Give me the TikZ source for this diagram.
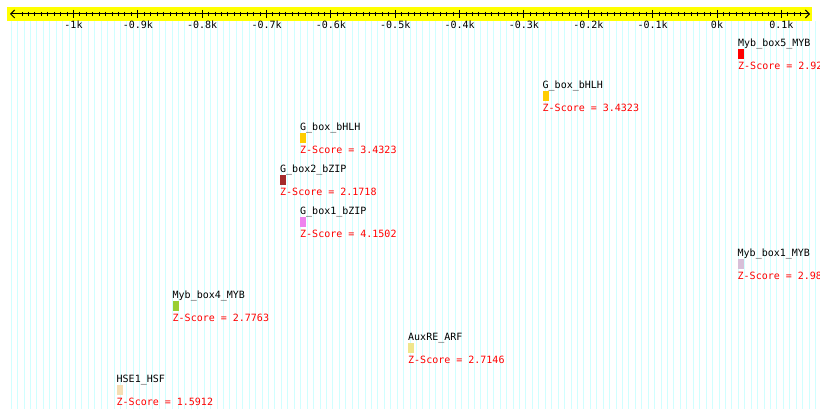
\documentclass[tikz,border=0pt]{standalone}
\usepackage{fontspec}
\setmonofont{DejaVu Sans Mono}
\usetikzlibrary{arrows.meta}
\definecolor{axisyellow}{RGB}{255,255,0}
\definecolor{gridcyan}{RGB}{208,255,255}
\definecolor{zred}{RGB}{255,0,0}
\definecolor{mybred}{RGB}{255,0,0}
\definecolor{bhlhgold}{RGB}{255,205,0}
\definecolor{bzipbrown}{RGB}{165,42,42}
\definecolor{bzipviolet}{RGB}{238,130,238}
\definecolor{mybthistle}{RGB}{216,191,216}
\definecolor{mybgreen}{RGB}{154,205,50}
\definecolor{arfkhaki}{RGB}{240,230,140}
\definecolor{hsfwheat}{RGB}{245,222,179}

\begin{document}
\begin{tikzpicture}[x=1pt, y=-1pt,
    lbl/.style={anchor=base west, inner sep=0pt, font=\ttfamily\fontsize{10}{12}\selectfont},
    zscore/.style={lbl, text=zred},
    ticklbl/.style={anchor=base, inner sep=0pt, font=\ttfamily\fontsize{10}{12}\selectfont},
    bar/.style={anchor=north west, inner sep=0pt, minimum width=6pt, minimum height=10pt}]
    \useasboundingbox (0,0) rectangle (820,419);
    % background grid, one line every 10 bp
    \foreach \b in {-1100,-1090,...,150}
        \draw[gridcyan, line width=1pt] ({719+0.6435*\b},21) -- ({719+0.6435*\b},409);
    % axis
    \fill[axisyellow] (7,7) rectangle (812,21);
    \coordinate (axl) at (10,14);
    \coordinate (axr) at (810,14);
    \draw[line width=1pt, {Straight Barb[length=4pt,width=8pt]}-{Straight Barb[length=4pt,width=8pt]}] (axl) -- (axr);
    \foreach \b in {-1080,-1070,...,130}
        \draw[line width=1pt] ({717+0.6435*\b},12) -- ({717+0.6435*\b},16);
    \foreach \b/\t in {-1000/-1k,-900/-0.9k,-800/-0.8k,-700/-0.7k,-600/-0.6k,-500/-0.5k,
                       -400/-0.4k,-300/-0.3k,-200/-0.2k,-100/-0.1k,0/0k,100/0.1k}{
        \draw[line width=1pt] ({717+0.6435*\b},10) -- ({717+0.6435*\b},18);
        \node[ticklbl] (tick\b) at ({717+0.6435*\b},28.5) {\t};
    }
    % motifs
    \foreach \x/\y/\name/\col/\z [count=\i] in {
        738/46/Myb\_box5\_MYB/mybred/2.92,
        542.5/88/G\_box\_bHLH/bhlhgold/3.4323,
        300/130/G\_box\_bHLH/bhlhgold/3.4323,
        280/172/G\_box2\_bZIP/bzipbrown/2.1718,
        300/214/G\_box1\_bZIP/bzipviolet/4.1502,
        737.5/256/Myb\_box1\_MYB/mybthistle/2.98,
        172.5/298/Myb\_box4\_MYB/mybgreen/2.7763,
        408/340/AuxRE\_ARF/arfkhaki/2.7146,
        116.5/382/HSE1\_HSF/hsfwheat/1.5912}{
        \node[lbl] (motif\i) at (\x,\y+1) {\name};
        \node[bar, fill=\col] (bar\i) at (\x,\y+3) {};
        \node[zscore] (score\i) at (\x,\y+23.5) {Z-Score = \z};
    }
\end{tikzpicture}
\end{document}
